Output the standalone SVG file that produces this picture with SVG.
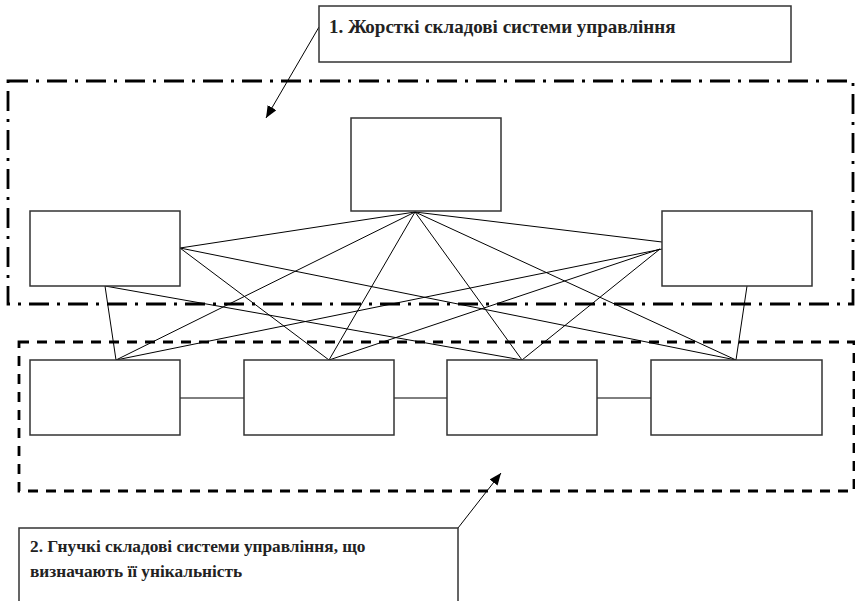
<svg xmlns="http://www.w3.org/2000/svg" width="855" height="601" viewBox="0 0 855 601">
  <style>
    .node { fill: #ffffff; stroke: #333333; stroke-width: 1.5; }
    .edge { stroke: #000000; stroke-width: 1; fill: none; }
    .label { font-family: "Liberation Serif", "Times New Roman", serif; font-weight: bold; fill: #222222; }
    .big { font-size: 19px; }
    .small { font-size: 17.3px; }
    .hard { fill: none; stroke: #000000; stroke-width: 2.8; stroke-dasharray: 20 8 3 8; }
    .soft { fill: none; stroke: #000000; stroke-width: 2.8; stroke-dasharray: 10 8; }
    .pointer { stroke: #000000; stroke-width: 1; fill: none; marker-end: url(#arrow); }
  </style>
  <defs>
    <marker id="arrow" viewBox="0 0 12 10" refX="12" refY="5" markerWidth="12" markerHeight="10" markerUnits="userSpaceOnUse" orient="auto">
      <path d="M0,0 L12,5 L0,10 z" fill="#000000"/>
    </marker>
  </defs>

  <rect width="855" height="601" fill="#ffffff"/>

  <!-- group boundaries -->
  <g id="boundaries">
    <rect class="hard" x="8" y="81" width="845" height="223"/>
    <rect class="soft" x="19" y="342" width="835" height="149"/>
  </g>

  <!-- connectors -->
  <g id="connectors">
    <line class="edge" x1="415" y1="212" x2="180" y2="248"/>
    <line class="edge" x1="415" y1="212" x2="662" y2="242"/>
    <line class="edge" x1="415" y1="212" x2="116" y2="360"/>
    <line class="edge" x1="415" y1="212" x2="329" y2="360"/>
    <line class="edge" x1="415" y1="212" x2="522" y2="360"/>
    <line class="edge" x1="415" y1="212" x2="736" y2="360"/>
    <line class="edge" x1="180" y1="248" x2="329" y2="360"/>
    <line class="edge" x1="180" y1="248" x2="736" y2="360"/>
    <line class="edge" x1="105" y1="286" x2="116" y2="360"/>
    <line class="edge" x1="105" y1="286" x2="522" y2="360"/>
    <line class="edge" x1="672" y1="247" x2="116" y2="360"/>
    <line class="edge" x1="660" y1="249" x2="329" y2="360"/>
    <line class="edge" x1="660" y1="249" x2="522" y2="360"/>
    <line class="edge" x1="747" y1="286" x2="736" y2="360"/>
    <line class="edge" x1="180" y1="398" x2="244" y2="398"/>
    <line class="edge" x1="394" y1="398" x2="447" y2="398"/>
    <line class="edge" x1="597" y1="398" x2="651" y2="398"/>
    <line class="pointer" x1="319" y1="27" x2="266" y2="118"/>
    <line class="pointer" x1="458" y1="528" x2="501" y2="473"/>
  </g>

  <!-- rigid components -->
  <g id="top-center"><rect class="node" x="351" y="118" width="150" height="93"/></g>
  <g id="top-left"><rect class="node" x="30" y="211" width="150" height="75"/></g>
  <g id="top-right"><rect class="node" x="662" y="211" width="150" height="75"/></g>

  <!-- flexible components -->
  <g id="bottom-1"><rect class="node" x="30" y="360" width="150" height="75"/></g>
  <g id="bottom-2"><rect class="node" x="244" y="360" width="150" height="75"/></g>
  <g id="bottom-3"><rect class="node" x="447" y="360" width="150" height="75"/></g>
  <g id="bottom-4"><rect class="node" x="651" y="360" width="171" height="75"/></g>

  <!-- captions -->
  <g id="caption-hard">
    <rect class="node" x="319" y="6" width="472" height="56"/>
    <text class="label big" x="329" y="33">1. Жорсткі складові системи управління</text>
  </g>
  <g id="caption-soft">
    <rect class="node" x="19" y="528" width="439" height="80"/>
    <text class="label small" x="30" y="552">2. Гнучкі складові системи управління, що</text>
    <text class="label small" x="30" y="577">визначають її унікальність</text>
  </g>
</svg>
